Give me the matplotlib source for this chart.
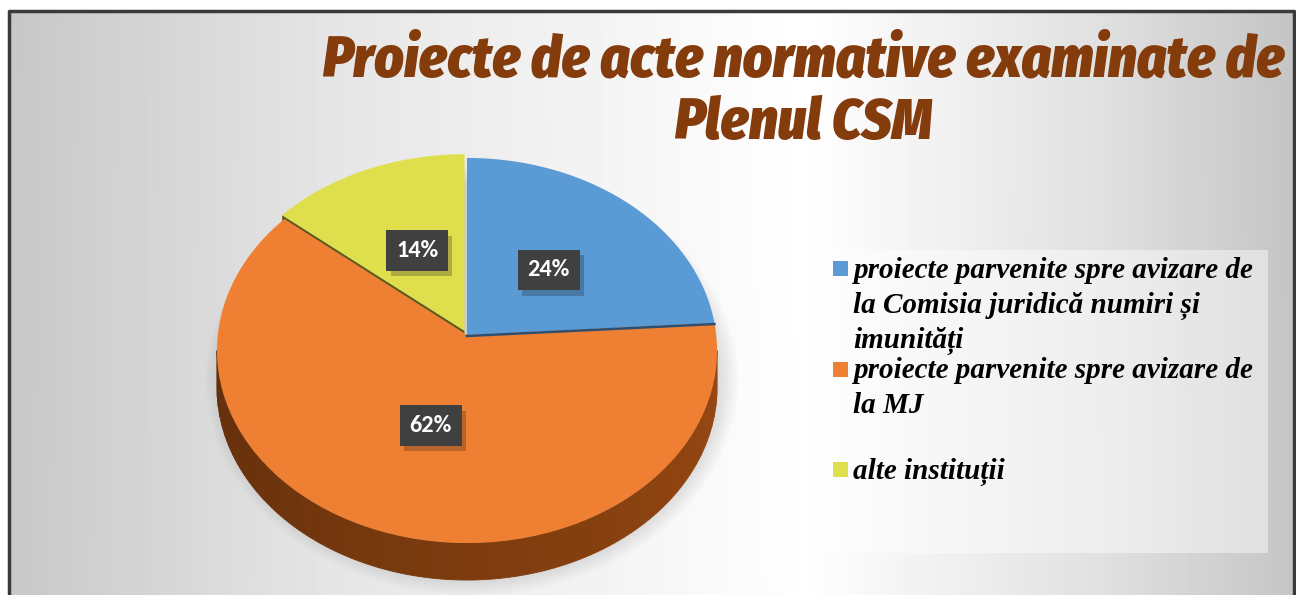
import textwrap
import numpy as np
import matplotlib.pyplot as plt
from matplotlib.colors import to_rgb
from matplotlib.patches import Polygon, Rectangle, Ellipse
import matplotlib.patheffects as pe

# date
categorii = ["proiecte parvenite spre avizare de la Comisia juridică numiri și imunități",
             "proiecte parvenite spre avizare de la MJ",
             "alte instituții"]
procente = [24, 62, 14]
culori = ["#5B9BD5", "#EF8033", "#DFDF4E"]
culori_lateral = ["#2F5A86", "#7A3A0E", "#5C5C16"]
explodare = [0.0, 0.0, 0.025]
titlu = "Proiecte de acte normative examinate de\nPlenul CSM"

W, H = 1296, 595
fig = plt.figure(figsize=(W / 100, H / 100), dpi=100)
ax = fig.add_axes([0, 0, 1, 1])
ax.set_xlim(0, W)
ax.set_ylim(H, 0)
ax.axis('off')

# fundal cu gradient
xs = np.linspace(0, 1, 400)
prof = np.interp(xs, [0, 0.25, 0.62, 0.85, 1], [0.78, 0.90, 1.0, 0.88, 0.77])
ys = np.linspace(0, 1, 100)[:, None]
grad = prof[None, :] * (1 - 0.03 * ys) + 0.03 * ys * 0.9
ax.imshow(grad, cmap='gray', vmin=0, vmax=1, extent=(9, W - 2, H, 12), aspect='auto', zorder=0)
ax.plot([9, 9, W - 2, W - 2], [H, 11, 11, H], color='#3a3a3a', lw=2.5, zorder=1)

# geometria pie 3D (cu perspectiva)
CX, CY = 467, 335
A, S, K = 249.2, 191.3, 0.0805
ADANC = 37


def punct(t, r=1.0, ox=0.0, oz=0.0):
    X = r * np.sin(t) + ox
    Z = r * np.cos(t) + oz
    w = 1 + K * Z
    return CX + A * X / w, CY - S * Z / w


def arc(t0, t1, ox=0.0, oz=0.0, n=120):
    return [punct(t, 1.0, ox, oz) for t in np.linspace(t0, t1, n)]


# umbra
for k in range(12):
    ax.add_patch(Ellipse((CX + 5, CY + 45), 2 * A + 34 - k * 4, 2 * 200 + 30 - k * 4,
                         facecolor='#808080', alpha=0.025, edgecolor='none', zorder=2))

fr = np.array(procente) / sum(procente)
capete = np.concatenate([[0], np.cumsum(fr)]) * 2 * np.pi
offs = []
for i in range(len(procente)):
    mid = (capete[i] + capete[i + 1]) / 2
    offs.append((explodare[i] * np.sin(mid), explodare[i] * np.cos(mid)))

# fete laterale (fata)
t_st = np.arccos(-K)
t_dr = 2 * np.pi - t_st
for i in range(len(procente)):
    t0, t1 = max(capete[i], t_st), min(capete[i + 1], t_dr)
    if t1 <= t0:
        continue
    ox, oz = offs[i]
    ts = np.linspace(t0, t1, 60)
    baza = np.array(to_rgb(culori_lateral[i]))
    for a, b in zip(ts[:-1], ts[1:]):
        m = (a + b) / 2
        f = 1.25 - 0.45 * (m - t_st) / (t_dr - t_st)
        col = np.clip(baza * f, 0, 1)
        sus = arc(a, b, ox, oz, 4)
        jos = [(x, y + ADANC) for x, y in sus[::-1]]
        ax.add_patch(Polygon(sus + jos, closed=True, facecolor=col, edgecolor=col, lw=0.6, zorder=3))

# fata taieturii pentru felia explodata
for i in range(len(procente)):
    if explodare[i] == 0:
        continue
    ox, oz = offs[i]
    c = punct(0, 0.0, ox, oz)
    r = punct(capete[i], 1.0, ox, oz)
    ax.add_patch(Polygon([c, r, (r[0], r[1] + ADANC), (c[0], c[1] + ADANC)], closed=True,
                         facecolor=culori_lateral[i], edgecolor='none', zorder=4))

# fete superioare
for i in range(len(procente)):
    ox, oz = offs[i]
    pts = [punct(0, 0.0, ox, oz)] + arc(capete[i], capete[i + 1], ox, oz)
    ax.add_patch(Polygon(pts, closed=True, facecolor=culori[i], edgecolor='none', zorder=5))

# linie intre albastru si portocaliu
xe, ye = punct(capete[1])
ax.plot([CX, xe], [CY + 1, ye + 1], color='#2F4F70', lw=1.8, zorder=6)

# etichete
for i in range(len(procente)):
    mid = (capete[i] + capete[i + 1]) / 2
    ox, oz = offs[i]
    lx, ly = punct(mid, 0.48, ox, oz)
    t = ax.text(lx + 2, ly, f"{procente[i]}%", ha='center', va='center', fontsize=17.5, fontweight='bold',
                family=['Carlito', 'Lato', 'DejaVu Sans'], color='white', zorder=8,
                bbox=dict(boxstyle='square,pad=0.4', facecolor='#404040', edgecolor='none'))
    t.get_bbox_patch().set_path_effects([pe.SimplePatchShadow(offset=(3, -4), alpha=0.25), pe.Normal()])

# legenda
ax.add_patch(Rectangle((820, 250), 448, 303, facecolor='white', alpha=0.45, edgecolor='none', zorder=2))
for i, nume in enumerate(categorii):
    y0 = 261 + i * 100.5
    ax.add_patch(Rectangle((833, y0), 15, 15, facecolor=culori[i], edgecolor='none', zorder=3))
    ax.text(853, y0 - 4, textwrap.fill(nume, 34), ha='left', va='top', fontsize=21,
            family=['Liberation Serif', 'DejaVu Serif'], style='italic', fontweight='bold',
            color='black', linespacing=1.36, zorder=3)

# titlu
ax.text(803, 92, titlu, ha='center', va='center', fontsize=41, style='italic', fontweight=900,
        family=['Fira Sans Condensed', 'DejaVu Sans'], color='#843C0C', linespacing=1.12, zorder=3)

fig.savefig('out.png', dpi=100, facecolor='white')
